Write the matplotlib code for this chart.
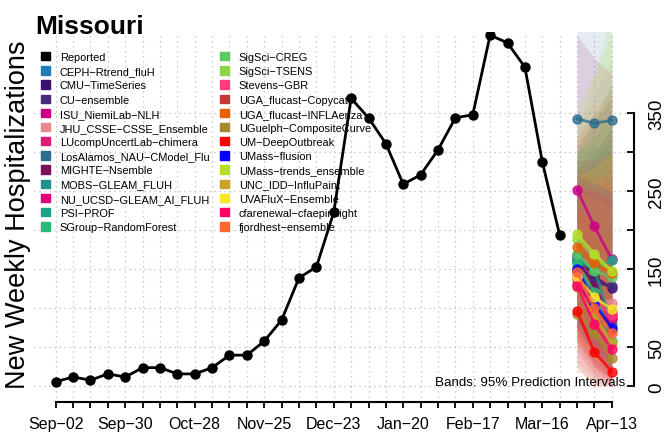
import numpy as np
import matplotlib
matplotlib.use('Agg')
import matplotlib.pyplot as plt
from matplotlib.patches import Patch

plt.rcParams['font.family'] = ['Liberation Sans', 'DejaVu Sans']

# weekly reported hospitalizations, Sep-02 .. Mar-23
reported = [6, 12, 8, 16, 12, 24, 24, 16, 16, 24, 40, 40, 58, 85, 139,
            153, 223, 369, 344, 311, 259, 271, 303, 344, 348, 450, 440,
            409, 288, 194]
date_labels = ['Sep\u221202', 'Sep\u221230', 'Oct\u221228', 'Nov\u221225',
               'Dec\u221223', 'Jan\u221220', 'Feb\u221217', 'Mar\u221216',
               'Apr\u221213']
n_weeks = 33
fc_x = [30, 31, 32]

models = ['CEPH\u2212Rtrend_fluH', 'CMU\u2212TimeSeries', 'CU\u2212ensemble',
          'ISU_NiemiLab\u2212NLH', 'JHU_CSSE\u2212CSSE_Ensemble',
          'LUcompUncertLab\u2212chimera', 'LosAlamos_NAU\u2212CModel_Flu',
          'MIGHTE\u2212Nsemble', 'MOBS\u2212GLEAM_FLUH', 'NU_UCSD\u2212GLEAM_AI_FLUH',
          'PSI\u2212PROF', 'SGroup\u2212RandomForest', 'SigSci\u2212CREG',
          'SigSci\u2212TSENS', 'Stevens\u2212GBR', 'UGA_flucast\u2212Copycat',
          'UGA_flucast\u2212INFLAenza', 'UGuelph\u2212CompositeCurve',
          'UM\u2212DeepOutbreak', 'UMass\u2212flusion', 'UMass\u2212trends_ensemble',
          'UNC_IDD\u2212InfluPaint', 'UVAFluX\u2212Ensemble',
          'cfarenewal\u2212cfaepimlight', 'fjordhest\u2212ensemble']
colors = ['#1f7fb4', '#3b0f6f', '#472a7a', '#cc0088', '#e8888f', '#dd1c77',
          '#2d6d8f', '#7a0f5e', '#21918c', '#e0007a', '#1fa187', '#2db87a',
          '#5ec962', '#8bd646', '#ff3b7a', '#c83737', '#e66101', '#a6892e',
          '#ff0000', '#0000ff', '#b5de2b', '#c9a227', '#fde725', '#ff0066',
          '#ff6633']

fc_median = [[152, 118, 96], [168, 140, 126], [160, 133, 128], [252, 205, 163],
             [141, 114, 107], [131, 103, 88], [343, 337, 341], [165, 127, 92],
             [163, 150, 80], [137, 93, 86], [161, 150, 162], [157, 121, 58],
             [170, 148, 140], [189, 166, 146], [146, 110, 92], [148, 101, 72],
             [178, 158, 145], [93, 68, 37], [97, 44, 19], [151, 106, 75],
             [195, 170, 148], [127, 90, 55], [140, 114, 99], [129, 80, 48],
             [146, 100, 68]]
fc_lower = [[70, 40, 20], [90, 55, 35], [85, 50, 30], [140, 90, 50],
            [30, 10, 0], [55, 25, 5], [230, 200, 180], [75, 45, 20],
            [85, 55, 15], [60, 25, 10], [80, 60, 45], [75, 40, 5],
            [90, 60, 45], [105, 70, 45], [65, 35, 15], [65, 30, 10],
            [95, 65, 40], [20, 5, 0], [25, 0, 0], [75, 40, 20],
            [100, 65, 40], [50, 20, 5], [60, 35, 20], [45, 15, 0],
            [60, 28, 8]]
fc_upper = [[300, 320, 340], [280, 300, 330], [270, 290, 320], [450, 420, 400],
            [330, 370, 420], [260, 280, 300], [480, 500, 520], [310, 340, 370],
            [290, 310, 300], [250, 250, 270], [300, 340, 390], [280, 270, 240],
            [300, 320, 350], [330, 400, 480], [270, 260, 280], [290, 290, 300],
            [320, 350, 380], [220, 210, 200], [230, 200, 170], [270, 260, 250],
            [360, 400, 450], [250, 240, 230], [270, 280, 300], [260, 250, 240],
            [280, 270, 260]]

fig = plt.figure(figsize=(6.66, 4.35), dpi=100)
ax = fig.add_axes([33.5 / 666, 1 - 403 / 435, 600.5 / 666, 370 / 435])
ax.set_xlim(-1.28, 33.28)
ax.set_ylim(-20, 454)

# grid
ax.set_xticks(range(0, n_weeks, 4))
ax.set_xticks(range(n_weeks), minor=True)
ax.set_xticklabels(date_labels)
ax.set_yticks([0, 50, 150, 250, 350])
ax.set_yticks([100, 200, 300], minor=True)
ax.set_yticklabels(['0', '50', '150', '250', '350'])
ax.grid(which='both', linestyle=(0, (1, 3)), color='#bdbdbd', lw=0.9)
ax.set_axisbelow(True)

# prediction bands
for lo, hi, c in zip(fc_lower, fc_upper, colors):
    ax.fill_between(fc_x, lo, hi, color=c, alpha=0.13, lw=0, zorder=2)

# reported
ax.plot(range(len(reported)), reported, color='black', lw=2, marker='o',
        ms=6.5, zorder=4)

# forecasts
for med, c in zip(fc_median, colors):
    ax.plot(fc_x, med, color=c, lw=2, marker='o', ms=6.5, alpha=0.8, zorder=3)

ax.text(0.985, 0.055, 'Bands: 95% Prediction Intervals', transform=ax.transAxes,
        ha='right', va='center', fontsize=9.6, zorder=5)

# axes styling (R-like)
for s in ['top', 'left']:
    ax.spines[s].set_visible(False)
ax.spines['bottom'].set_bounds(0, n_weeks - 1)
ax.spines['right'].set_bounds(0, 350)
ax.spines['bottom'].set_linewidth(1.5)
ax.spines['right'].set_linewidth(1.5)
ax.yaxis.tick_right()
ax.tick_params(axis='x', which='both', direction='out', length=4, width=1.3,
               labelsize=11.5, pad=6)
ax.tick_params(axis='y', which='both', direction='in', length=5, width=1.3,
               labelsize=13.5, pad=10)
for lab in ax.get_yticklabels():
    lab.set_rotation(90)
    lab.set_va('center')
    lab.set_ha('left')

handles = [Patch(color='black')] + [Patch(color=c) for c in colors]
labels = ['Reported'] + models
leg = fig.legend(handles, labels, ncol=2, loc='upper left',
                 bbox_to_anchor=(41 / 666, 1 - 53 / 435), frameon=False,
                 fontsize=7.9, handlelength=0.8, handleheight=0.8,
                 handletextpad=0.9, labelspacing=0.38, columnspacing=1.0,
                 borderpad=0, borderaxespad=0)

fig.text(18 / 666, 1 - 215 / 435, 'New Weekly Hospitalizations', rotation=90,
         ha='center', va='center', fontsize=19.5)
fig.text(35 / 666, 1 - 34 / 435, 'Missouri', fontsize=19, fontweight='bold',
         ha='left', va='baseline')

fig.savefig('out.png', dpi=100)
